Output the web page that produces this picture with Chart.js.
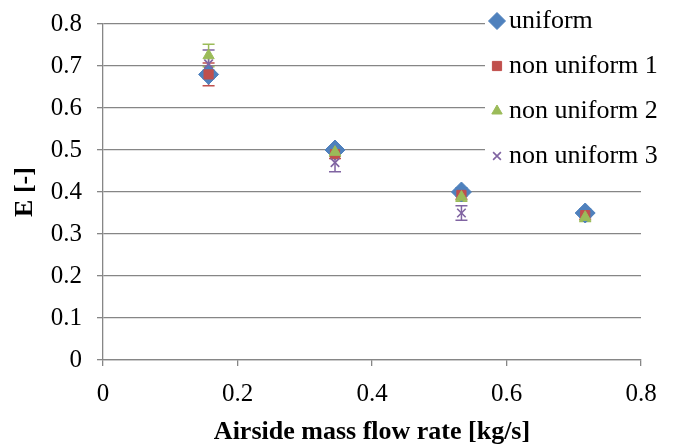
<!DOCTYPE html>
<html>
<head>
<meta charset="utf-8">
<script src="https://cdn.jsdelivr.net/npm/chart.js@4/dist/chart.umd.min.js"></script>
<style>
  html, body { margin: 0; padding: 0; background: #ffffff; }
  #wrap { width: 679px; height: 445px; position: relative; }
</style>
</head>
<body>
<div id="wrap"><canvas id="c"></canvas></div>
<script>
// ---- data ----
const seriesNames = ['uniform', 'non uniform 1', 'non uniform 2', 'non uniform 3'];
const xFlow = [0.157, 0.345, 0.533, 0.717];
const eUniform = [0.68, 0.50, 0.40, 0.35];
const eNonUniform1 = [0.68, 0.49, 0.393, 0.345];
const eNonUniform2 = [0.725, 0.495, 0.388, 0.34];
const eNonUniform3 = [0.705, 0.47, 0.35];
const errUniform = [0.01, 0.01, 0.01, 0.01];
const errNonUniform1 = [0.027, 0.01, 0.01, 0.01];
const errNonUniform2 = [0.027, 0.01, 0.01, 0.01];
const errNonUniform3 = [0.033, 0.022, 0.017];
const xTicks = [0, 0.2, 0.4, 0.6, 0.8];
const yTicks = [0, 0.1, 0.2, 0.3, 0.4, 0.5, 0.6, 0.7, 0.8];

const colors = ['#4F81BD', '#C0504D', '#9BBB59', '#8064A2'];
const styles = ['rectRot', 'rect', 'triangle', 'crossRot'];
const radii = [10, 6.5, 6.5, 6];
const values = [eUniform, eNonUniform1, eNonUniform2, eNonUniform3];
const errors = [errUniform, errNonUniform1, errNonUniform2, errNonUniform3];
const FONT = "'Liberation Serif', 'Times New Roman', serif";
const GRID = '#868686';

const datasets = values.map((vals, i) => ({
  label: seriesNames[i],
  data: vals.map((v, j) => ({ x: xFlow[j], y: v })),
  errors: errors[i],
  showLine: false,
  pointStyle: styles[i],
  pointRadius: radii[i],
  pointHoverRadius: radii[i],
  pointBackgroundColor: colors[i],
  pointBorderColor: colors[i],
  pointBorderWidth: i === 3 ? 1.6 : 1,
  order: 4 - i
}));

const errorBars = {
  id: 'errorBars',
  beforeDatasetsDraw(chart) {
    const ctx = chart.ctx;
    const xs = chart.scales.x, ys = chart.scales.y;
    chart.data.datasets.forEach((ds, i) => {
      ctx.save();
      ctx.strokeStyle = colors[i];
      ctx.lineWidth = 1.5;
      ds.data.forEach((p, j) => {
        const e = ds.errors[j];
        if (!e) return;
        const px = xs.getPixelForValue(p.x);
        const top = ys.getPixelForValue(p.y + e);
        const bot = ys.getPixelForValue(p.y - e);
        ctx.beginPath();
        ctx.moveTo(px, top); ctx.lineTo(px, bot);
        ctx.moveTo(px - 6, top); ctx.lineTo(px + 6, top);
        ctx.moveTo(px - 6, bot); ctx.lineTo(px + 6, bot);
        ctx.stroke();
      });
      ctx.restore();
    });
  }
};

function marker(ctx, style, x, y, r, color) {
  ctx.save();
  ctx.fillStyle = color; ctx.strokeStyle = color; ctx.lineWidth = 1;
  ctx.beginPath();
  if (style === 'rectRot') {
    ctx.moveTo(x, y - r); ctx.lineTo(x + r, y); ctx.lineTo(x, y + r); ctx.lineTo(x - r, y); ctx.closePath();
    ctx.fill(); ctx.stroke();
  } else if (style === 'rect') {
    const s = r * Math.SQRT1_2;
    ctx.rect(x - s, y - s, 2 * s, 2 * s); ctx.fill(); ctx.stroke();
  } else if (style === 'triangle') {
    ctx.moveTo(x, y - r);
    ctx.lineTo(x + r * Math.sin(2 * Math.PI / 3), y - r * Math.cos(2 * Math.PI / 3));
    ctx.lineTo(x + r * Math.sin(4 * Math.PI / 3), y - r * Math.cos(4 * Math.PI / 3));
    ctx.closePath(); ctx.fill(); ctx.stroke();
  } else {
    const s = r * Math.SQRT1_2;
    ctx.lineWidth = 1.6;
    ctx.moveTo(x - s, y - s); ctx.lineTo(x + s, y + s);
    ctx.moveTo(x + s, y - s); ctx.lineTo(x - s, y + s);
    ctx.stroke();
  }
  ctx.restore();
}

const customLegend = {
  id: 'customLegend',
  afterDraw(chart) {
    const ctx = chart.ctx;
    ctx.save();
    ctx.fillStyle = '#ffffff';
    ctx.fillRect(485, 0, 194, 178);
    const rows = [21, 66, 111, 156];
    const mr = [8.5, 6.5, 6, 5.5];
    seriesNames.forEach((name, i) => {
      marker(ctx, styles[i], 497, rows[i], mr[i], colors[i]);
      ctx.fillStyle = '#000000';
      ctx.font = '26px ' + FONT;
      ctx.textBaseline = 'middle';
      ctx.textAlign = 'left';
      ctx.fillText(name, 509, rows[i]);
    });
    ctx.restore();
  }
};

new Chart(document.getElementById('c'), {
  type: 'scatter',
  data: { datasets },
  plugins: [errorBars, customLegend],
  options: {
    responsive: true,
    maintainAspectRatio: false,
    animation: false,
    events: [],
    layout: { padding: { top: 24, right: 38, left: 0, bottom: 0 } },
    plugins: { legend: { display: false }, tooltip: { enabled: false } },
    scales: {
      x: {
        type: 'linear', min: 0, max: 0.8,
        afterBuildTicks(s) { s.ticks = xTicks.map(v => ({ value: v })); },
        afterFit(s) { s.height = 85; s.paddingLeft = 0; s.paddingRight = 0; },
        ticks: {
          color: '#000', font: { family: FONT, size: 25 }, padding: 13,
          callback: v => String(+v.toFixed(1))
        },
        grid: { drawOnChartArea: false, drawTicks: true, tickLength: 6, tickColor: GRID, lineWidth: 1.3 },
        border: { display: true, color: GRID, width: 1.3 },
        title: {
          display: true, text: 'Airside mass flow rate [kg/s]', color: '#000',
          font: { family: FONT, size: 26, weight: 'bold', lineHeight: 1 }, padding: { top: 1, bottom: 0 }
        }
      },
      y: {
        type: 'linear', min: 0, max: 0.8,
        afterBuildTicks(s) { s.ticks = yTicks.map(v => ({ value: v })); },
        afterFit(s) { s.width = 103; s.paddingTop = 0; s.paddingBottom = 0; },
        ticks: {
          color: '#000', font: { family: FONT, size: 25 }, padding: 15,
          callback: v => String(+v.toFixed(1))
        },
        grid: { color: GRID, lineWidth: 1.3, drawTicks: true, tickLength: 6, tickColor: GRID },
        border: { display: true, color: GRID, width: 1.3 },
        title: {
          display: true, text: 'E [-]', color: '#000',
          font: { family: FONT, size: 26, weight: 'bold', lineHeight: 1.2 }, padding: { top: 10, bottom: 0 }
        }
      }
    }
  }
});
</script>
</body>
</html>
